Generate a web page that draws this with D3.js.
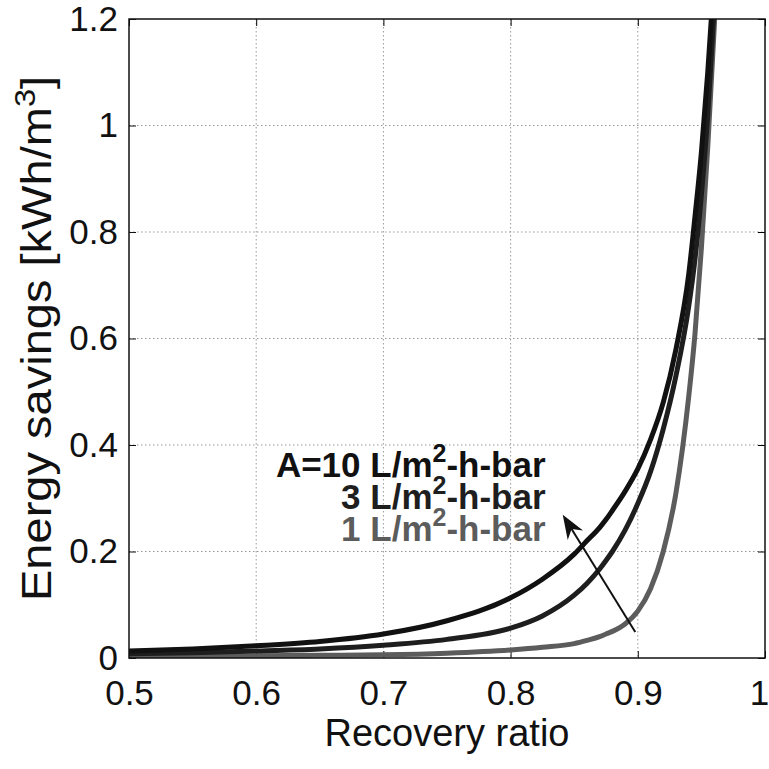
<!DOCTYPE html>
<html>
<head>
<meta charset="utf-8">
<script src="https://cdn.jsdelivr.net/npm/d3@7"></script>
<style>
  body { margin: 0; background: #fff; }
  svg { display: block; font-family: "Liberation Sans", Arial, Helvetica, sans-serif; }
  .grid line { stroke: #999; stroke-dasharray: 1.5 2.5; stroke-width: 1; }
  .tick text { font-size: 35px; fill: #111; }
</style>
</head>
<body>
<svg id="chart" width="769" height="769"></svg>
<script>
// recovery ratio samples (shared by the three curves)
var recovery = [0.5, 0.55, 0.6, 0.65, 0.7, 0.75, 0.8, 0.825, 0.85, 0.86, 0.87, 0.875, 0.88, 0.89, 0.9, 0.91, 0.92, 0.93, 0.94, 0.945, 0.95, 0.955, 0.96, 0.965];

// energy savings [kWh/m3]
var savingsA10 = [0.013, 0.017, 0.023, 0.031, 0.045, 0.070, 0.113, 0.148, 0.195, 0.220, 0.245, 0.260, 0.277, 0.313, 0.355, 0.41, 0.48, 0.58, 0.72, 0.83, 0.95, 1.10, 1.28, 1.50];
var savingsA3  = [0.008, 0.010, 0.013, 0.017, 0.024, 0.035, 0.056, 0.079, 0.118, 0.140, 0.167, 0.183, 0.200, 0.240, 0.29, 0.35, 0.43, 0.53, 0.66, 0.75, 0.87, 1.02, 1.22, 1.46];
var savingsA1  = [0.003, 0.003, 0.004, 0.005, 0.006, 0.009, 0.015, 0.020, 0.027, 0.033, 0.040, 0.045, 0.050, 0.064, 0.088, 0.13, 0.20, 0.31, 0.49, 0.61, 0.77, 0.96, 1.18, 1.42];

var xTicks = [0.5, 0.6, 0.7, 0.8, 0.9, 1];
var yTicks = [0, 0.2, 0.4, 0.6, 0.8, 1, 1.2];

var seriesNames = ["A=10", "3", "1"];
var seriesColors = ["#111", "#1e1e1e", "#5c5c5c"];

var margin = {top: 19, right: 4, bottom: 111, left: 129},
    width = 769 - margin.left - margin.right,
    height = 769 - margin.top - margin.bottom;

var svg = d3.select("#chart");
var g = svg.append("g")
    .attr("transform", "translate(" + margin.left + "," + margin.top + ")");

var x = d3.scaleLinear().domain([0.5, 1]).range([0, width]);
var y = d3.scaleLinear().domain([0, 1.2]).range([height, 0]);

// dotted grid
g.append("g").attr("class", "grid")
  .selectAll("line")
  .data(xTicks.slice(1, -1))
  .enter().append("line")
    .attr("x1", d => x(d)).attr("x2", d => x(d))
    .attr("y1", 0).attr("y2", height);

g.append("g").attr("class", "grid")
  .selectAll("line")
  .data(yTicks.slice(1, -1))
  .enter().append("line")
    .attr("y1", d => y(d)).attr("y2", d => y(d))
    .attr("x1", 0).attr("x2", width);

// axes (matlab style: ticks inside, on all four sides)
var fmt = d => d === 0 || d === 1 ? String(d) : d3.format(".1f")(d);

g.append("g")
    .attr("transform", "translate(0," + height + ")")
    .call(d3.axisBottom(x).tickValues(xTicks).tickFormat(fmt).tickSize(-7).tickPadding(22))
    .call(a => a.select(".domain").remove())
    .call(a => a.selectAll(".tick line").attr("stroke", "#111"))
    .call(a => a.selectAll(".tick text").filter(d => d === 1).attr("dx", -6));

g.append("g")
    .call(d3.axisLeft(y).tickValues(yTicks).tickFormat(fmt).tickSize(-7).tickPadding(11))
    .call(a => a.select(".domain").remove())
    .call(a => a.selectAll(".tick line").attr("stroke", "#111"));

g.append("g")
    .call(d3.axisTop(x).tickValues(xTicks).tickFormat("").tickSize(-7))
    .call(a => a.select(".domain").remove());

g.append("g")
    .attr("transform", "translate(" + width + ",0)")
    .call(d3.axisRight(y).tickValues(yTicks).tickFormat("").tickSize(-7))
    .call(a => a.select(".domain").remove());

// clip + curves
g.append("clipPath").attr("id", "clip")
  .append("rect").attr("width", width).attr("height", height);

var line = d3.line()
    .curve(d3.curveMonotoneX)
    .x(d => x(d[0]))
    .y(d => y(d[1]));

var series = [savingsA10, savingsA3, savingsA1];

g.selectAll(".curve")
  .data(series.slice().reverse())
  .enter().append("path")
    .attr("class", "curve")
    .attr("clip-path", "url(#clip)")
    .attr("fill", "none")
    .attr("stroke", (d, i) => seriesColors[series.length - 1 - i])
    .attr("stroke-width", 5)
    .attr("d", d => line(recovery.map((r, i) => [r, d[i]])));

// frame
g.append("rect")
    .attr("width", width).attr("height", height)
    .attr("fill", "none").attr("stroke", "#111").attr("stroke-width", 1.5);

// annotation labels
var labelX = 0.8275, labelY = [0.340, 0.280, 0.220];
var lbl = g.append("g")
    .attr("font-size", 35)
    .attr("font-weight", "bold")
    .attr("text-anchor", "end");

seriesNames.forEach(function(name, i) {
  var t = lbl.append("text")
      .attr("x", x(labelX))
      .attr("y", y(labelY[i]))
      .attr("fill", seriesColors[i]);
  t.append("tspan").text(name + " L/m");
  t.append("tspan").attr("dy", -15).attr("font-size", 25).text("2");
  t.append("tspan").attr("dy", 15).text("-h-bar");
});

// arrow from the low-A curve to the high-A curve
var arrowFrom = [0.898, 0.049], arrowTo = [0.841, 0.269];
var x1 = x(arrowFrom[0]), y1 = y(arrowFrom[1]), x2 = x(arrowTo[0]), y2 = y(arrowTo[1]);
var ang = Math.atan2(y2 - y1, x2 - x1);
var L = 24, W = 9;
var bx = x2 - L * Math.cos(ang), by = y2 - L * Math.sin(ang);
var nx = -Math.sin(ang), ny = Math.cos(ang);
var nX = x2 - 0.7 * L * Math.cos(ang), nY = y2 - 0.7 * L * Math.sin(ang);

g.append("line")
    .attr("x1", x1).attr("y1", y1).attr("x2", nX).attr("y2", nY)
    .attr("stroke", "#111").attr("stroke-width", 2);

g.append("path")
    .attr("d", "M" + x2 + "," + y2 +
               "L" + (bx + W * nx) + "," + (by + W * ny) +
               "L" + nX + "," + nY +
               "L" + (bx - W * nx) + "," + (by - W * ny) + "Z")
    .attr("fill", "#111");

// axis titles
svg.append("text")
    .attr("x", margin.left + width / 2)
    .attr("y", 746)
    .attr("text-anchor", "middle")
    .attr("font-size", 38)
    .attr("fill", "#111")
    .text("Recovery ratio");

var yl = svg.append("text")
    .attr("transform", "translate(51," + (margin.top + height / 2) + ") rotate(-90) scale(1.12,1)")
    .attr("text-anchor", "middle")
    .attr("font-size", 42)
    .attr("fill", "#111");
yl.append("tspan").text("Energy savings [kWh/m");
yl.append("tspan").attr("dy", -16).attr("font-size", 29).text("3");
yl.append("tspan").attr("dy", 16).text("]");
</script>
</body>
</html>
